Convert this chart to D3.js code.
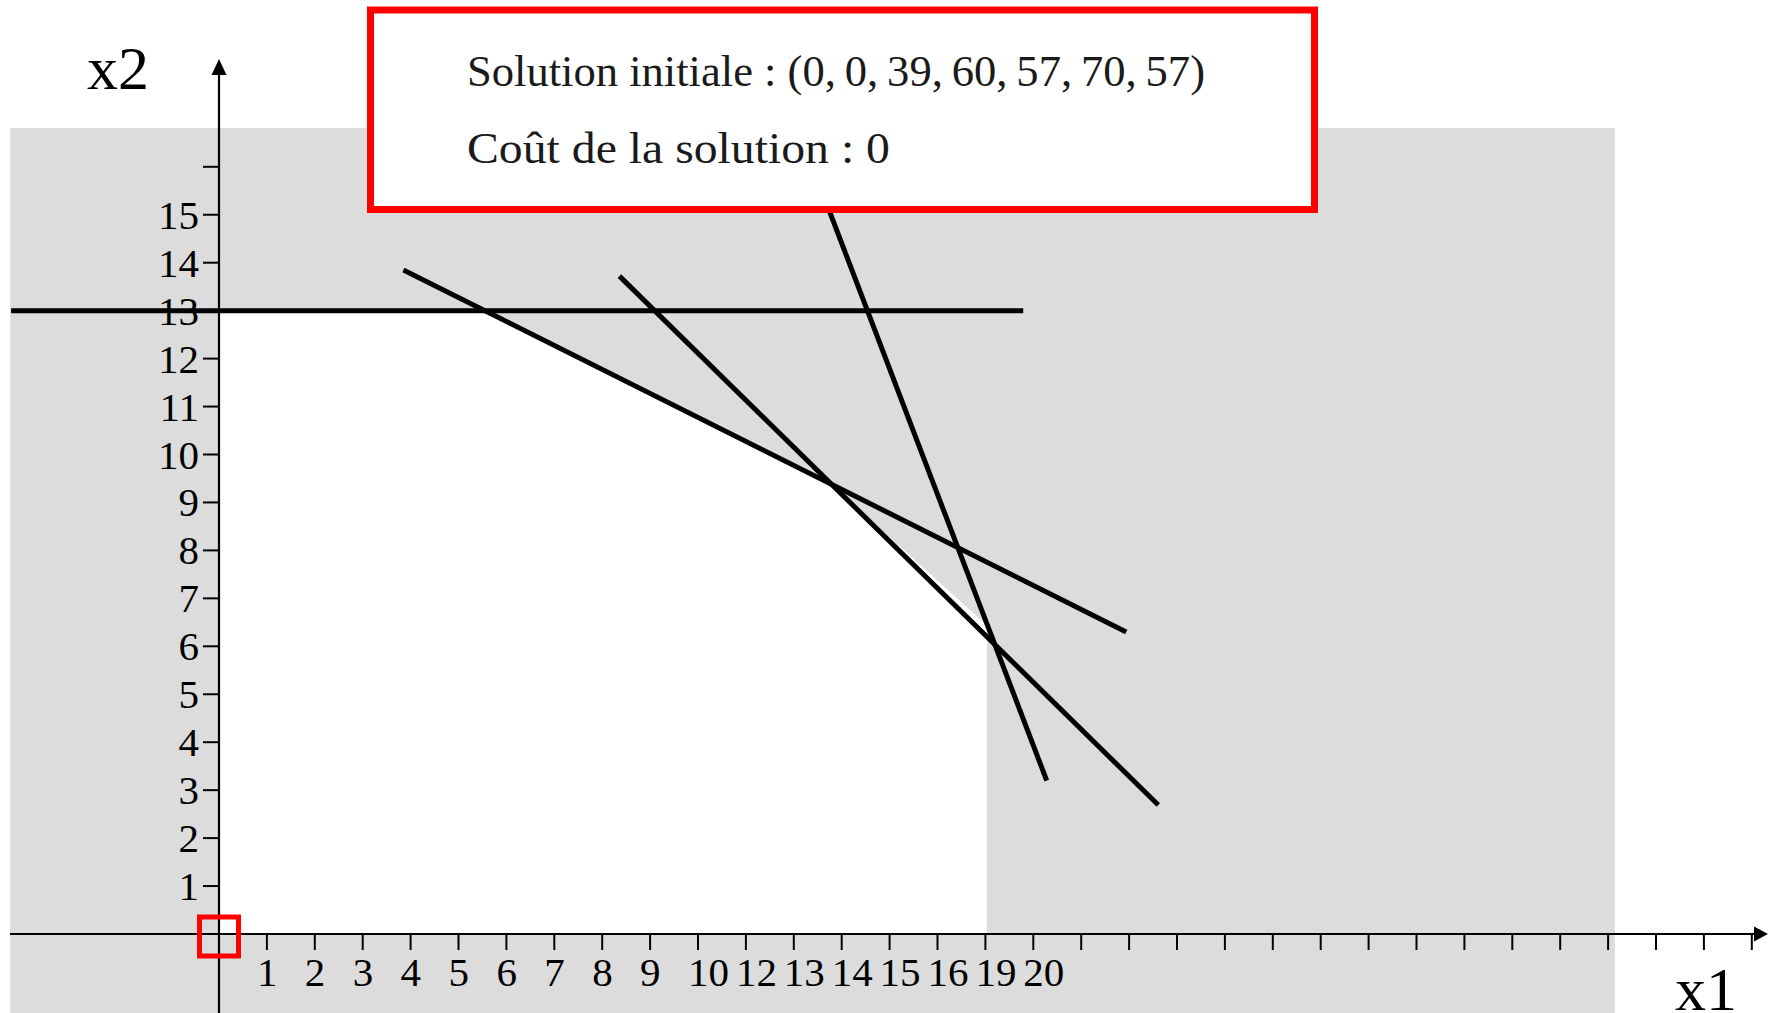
<!DOCTYPE html>
<html><head><meta charset="UTF-8"><title>Solution initiale</title>
<style>
  body, html { margin: 0; padding: 0; background: #fff; overflow: hidden; }
  svg { display: block; }
  .num { font-family: 'Liberation Serif', serif; fill: #000; }
  .note { font-family: 'Liberation Serif', serif; fill: #1a1a1a; }
</style>
</head>
<body>
<div id="chart"></div>
<script src="https://d3js.org/d3.v7.min.js"></script>
<script>
const width = 1774;
const height = 1013;

// axis ticks and their (odd) labels
const xTicks = d3.range(1, 33);
const xTickLabels = ["1", "2", "3", "4", "5", "6", "7", "8", "9", "10", "12", "13", "14", "15", "16", "19", "20"];
const yTicks = d3.range(1, 17);
const yTickLabels = d3.range(1, 16).map(String);

// constraint segments, in (x1, x2) units
const line13 = [[-4.34, 13], [16.79, 13]];
const lineA = [[3.85, 13.85], [18.94, 6.30]];
const lineB = [[8.36, 13.72], [19.61, 2.69]];
const lineC = [[12.2, 16.5], [17.28, 3.20]];

// shaded (infeasible) background and the white feasible polygon
const grayArea = [[-4.36, -1.7], [29.14, 16.81]];
const feasible = [[0, 0], [0, 13], [5.52, 13], [12.78, 9.38], [16.03, 6.44], [16.03, 0]];

const infoLines = ["Solution initiale : (0,\u20090,\u200939,\u200960,\u200957,\u200970,\u200957)", "Coût de la solution : 0"];

const svg = d3.select("#chart").append("svg")
  .attr("width", width)
  .attr("height", height);

const x = d3.scaleLinear().domain([0, 32]).range([219, 219 + 32 * 47.9]);
const y = d3.scaleLinear().domain([0, 16]).range([934, 934 - 16 * 47.95]);

// background shading
svg.append("rect")
  .attr("x", x(grayArea[0][0]))
  .attr("y", y(grayArea[1][1]))
  .attr("width", x(grayArea[1][0]) - x(grayArea[0][0]))
  .attr("height", y(grayArea[0][1]) - y(grayArea[1][1]))
  .attr("fill", "#dcdcdc");

const line = d3.line().x(d => x(d[0])).y(d => y(d[1]));

svg.append("path")
  .attr("d", line(feasible) + "Z")
  .attr("fill", "#fff");

// constraints
[line13, lineA, lineB, lineC].forEach(seg => {
  svg.append("path")
    .attr("d", line(seg))
    .attr("fill", "none")
    .attr("stroke", "#000")
    .attr("stroke-width", 5);
});

// x axis
svg.append("line")
  .attr("x1", 10).attr("x2", 1756)
  .attr("y1", y(0)).attr("y2", y(0))
  .attr("stroke", "#000").attr("stroke-width", 2.2);
svg.append("path")
  .attr("d", `M1754,${y(0) - 7.5}L1768,${y(0)}L1754,${y(0) + 7.5}Z`)
  .attr("fill", "#000");

svg.selectAll(".xtick").data(xTicks).enter().append("line")
  .attr("x1", d => x(d)).attr("x2", d => x(d))
  .attr("y1", y(0)).attr("y2", y(0) + 16)
  .attr("stroke", "#000").attr("stroke-width", 2);

svg.selectAll(".xlab").data(xTickLabels).enter().append("text")
  .attr("class", "num")
  .attr("x", (d, i) => x(xTicks[i]) - 10)
  .attr("y", 986)
  .attr("font-size", 41)
  .text(d => d);

// y axis
svg.append("line")
  .attr("x1", x(0)).attr("x2", x(0))
  .attr("y1", height).attr("y2", 72)
  .attr("stroke", "#000").attr("stroke-width", 2.2);
svg.append("path")
  .attr("d", `M${x(0) - 7.5},75L${x(0)},59L${x(0) + 7.5},75Z`)
  .attr("fill", "#000");

svg.selectAll(".ytick").data(yTicks).enter().append("line")
  .attr("x1", x(0) - 16).attr("x2", x(0))
  .attr("y1", d => y(d)).attr("y2", d => y(d))
  .attr("stroke", "#000").attr("stroke-width", 2);

svg.selectAll(".ylab").data(yTickLabels).enter().append("text")
  .attr("class", "num")
  .attr("x", 199)
  .attr("y", (d, i) => y(yTicks[i]) + 14)
  .attr("text-anchor", "end")
  .attr("font-size", 41)
  .text(d => d);

// axis names
svg.append("text").attr("class", "num")
  .attr("x", 87).attr("y", 89).attr("font-size", 62).text("x2");
svg.append("text").attr("class", "num")
  .attr("x", 1675).attr("y", 1010).attr("font-size", 62).text("x1");

// red marker at the origin
svg.append("rect")
  .attr("x", x(0) - 19.5).attr("y", y(0) - 17)
  .attr("width", 39).attr("height", 39)
  .attr("fill", "none")
  .attr("stroke", "#ff0000").attr("stroke-width", 5);

// info box
svg.append("rect")
  .attr("x", 370.5).attr("y", 10)
  .attr("width", 944).attr("height", 199.5)
  .attr("fill", "#fff")
  .attr("stroke", "#ff0000").attr("stroke-width", 7);

const infoBase = [86, 163];
const infoWidth = [738, 423];
svg.selectAll(".note").data(infoLines).enter().append("text")
  .attr("class", "note")
  .attr("x", 467)
  .attr("y", (d, i) => infoBase[i])
  .attr("font-size", 44)
  .attr("textLength", (d, i) => infoWidth[i])
  .attr("lengthAdjust", "spacingAndGlyphs")
  .text(d => d);
</script>
</body></html>
